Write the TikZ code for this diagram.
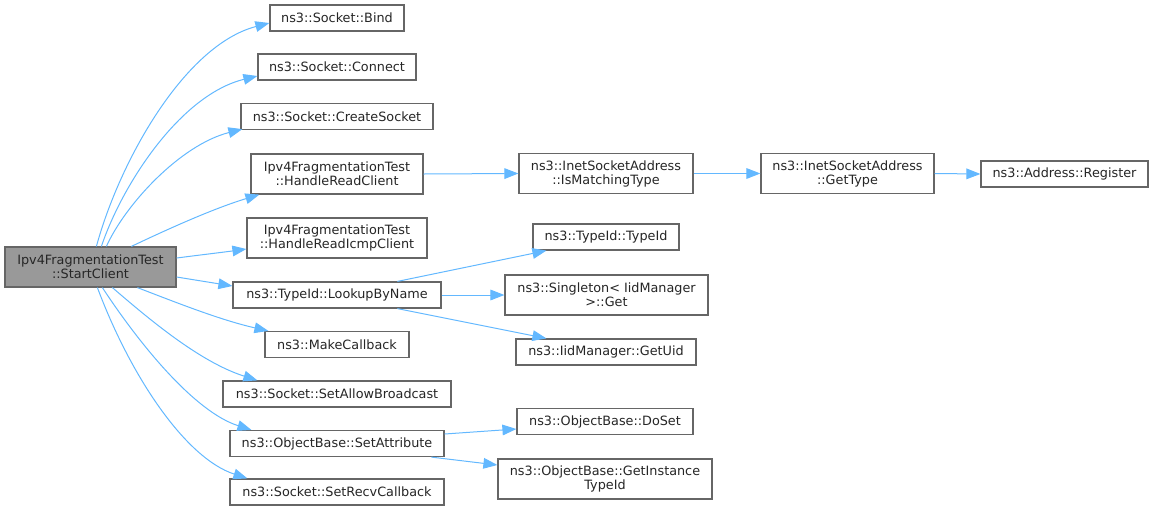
\documentclass[tikz,border=0pt]{standalone}
\usepackage{fontspec}
\setmainfont{DejaVu Sans}
\usetikzlibrary{arrows.meta,calc}
\definecolor{edgeblue}{HTML}{63B8FF}
\definecolor{boxborder}{HTML}{666666}
\definecolor{startfill}{HTML}{999999}
\tikzset{
  box/.style={draw=boxborder, line width=0.9pt, fill=white, inner sep=0pt, align=center,
    font=\fontsize{9.6}{10.5}\selectfont, text=black!85},
  onel/.style={minimum height=19.5pt},
  twol/.style={minimum height=30pt},
  call/.style={draw=edgeblue, line width=0.75pt, -{Triangle[length=10.5pt,width=8pt]}}
}
\begin{document}
\begin{tikzpicture}[x=0.75pt,y=-0.75pt]
\useasboundingbox (0,0) rectangle (1153,511);
% nodes
\node[box,twol,fill=startfill,minimum width=128.25pt] (start) at (90.5,267) {Ipv4FragmentationTest\\::StartClient};
\node[box,onel,minimum width=100.5pt] (bind) at (337,18) {ns3::Socket::Bind};
\node[box,onel,minimum width=118.5pt] (connect) at (337,67) {ns3::Socket::Connect};
\node[box,onel,minimum width=144pt] (create) at (337,116.5) {ns3::Socket::CreateSocket};
\node[box,twol,minimum width=129pt] (hrc) at (337,174) {Ipv4FragmentationTest\\::HandleReadClient};
\node[box,twol,minimum width=135pt] (hric) at (337,238) {Ipv4FragmentationTest\\::HandleReadIcmpClient};
\node[box,onel,minimum width=156pt] (lookup) at (337,295) {ns3::TypeId::LookupByName};
\node[box,onel,minimum width=108pt] (make) at (337,344.5) {ns3::MakeCallback};
\node[box,onel,minimum width=171pt] (allow) at (337,394) {ns3::Socket::SetAllowBroadcast};
\node[box,onel,minimum width=160.5pt] (setattr) at (337,443.5) {ns3::ObjectBase::SetAttribute};
\node[box,onel,minimum width=160.5pt] (recv) at (337,492) {ns3::Socket::SetRecvCallback};
\node[box,twol,minimum width=130.5pt] (ismatch) at (606,173.5) {ns3::InetSocketAddress\\::IsMatchingType};
\node[box,twol,minimum width=129.75pt] (gettype) at (847.5,173.5) {ns3::InetSocketAddress\\::GetType};
\node[box,onel,minimum width=125.25pt] (register) at (1064.5,174) {ns3::Address::Register};
\node[box,onel,minimum width=109.5pt] (typeid) at (606,237) {ns3::TypeId::TypeId};
\node[box,twol,minimum width=152.25pt] (singleton) at (606.5,295) {ns3::Singleton< IidManager\\ >::Get};
\node[box,onel,minimum width=135pt] (getuid) at (606,352) {ns3::IidManager::GetUid};
\node[box,onel,minimum width=132pt] (doset) at (605,421.5) {ns3::ObjectBase::DoSet};
\node[box,twol,minimum width=160.5pt] (getinst) at (605,479) {ns3::ObjectBase::GetInstance\\TypeId};
% edges from StartClient
\draw[call] ($(start.north west)+(92,0)$) .. controls (120,160) and (185,45) .. ($(bind.west)+(0,5)$);
\draw[call] ($(start.north west)+(97,0)$) .. controls (122,185) and (180,95) .. ($(connect.west)+(0,9)$);
\draw[call] ($(start.north west)+(102,0)$) .. controls (125,205) and (180,145) .. ($(create.south west)+(2,-1)$);
\draw[call] ($(start.north west)+(127,0)$) .. controls (170,228) and (215,208) .. ($(hrc.south west)+(9,0)$);
\draw[call] ($(start.east)+(0,-9)$) .. controls (200,255) and (225,252) .. ($(hric.west)+(0,11)$);
\draw[call] ($(start.east)+(0,10)$) -- ($(lookup.west)+(0,-9)$);
\draw[call] ($(start.south west)+(133,0)$) .. controls (175,302) and (220,320) .. ($(make.north west)+(4,0)$);
\draw[call] ($(start.south west)+(108,0)$) .. controls (150,320) and (200,362) .. ($(allow.north west)+(35,0)$);
\draw[call] ($(start.south west)+(98,0)$) .. controls (140,345) and (195,412) .. ($(setattr.north west)+(22,0)$);
\draw[call] ($(start.south west)+(93,0)$) .. controls (130,375) and (185,458) .. ($(recv.north west)+(18,0)$);
% further edges
\draw[call] (hrc.east) -- (ismatch.west);
\draw[call] (ismatch.east) -- (gettype.west);
\draw[call] (gettype.east) -- (register.west);
\draw[call] ($(lookup.north west)+(165,0)$) -- ($(typeid.south west)+(14,0)$);
\draw[call] (lookup.east) -- (singleton.west);
\draw[call] ($(lookup.south west)+(165,0)$) -- ($(getuid.north west)+(31,0)$);
\draw[call] ($(setattr.east)+(0,-9.5)$) -- ($(doset.west)+(0,7.5)$);
\draw[call] ($(setattr.south west)+(202,0)$) -- ($(getinst.west)+(0,-14)$);
\end{tikzpicture}
\end{document}
